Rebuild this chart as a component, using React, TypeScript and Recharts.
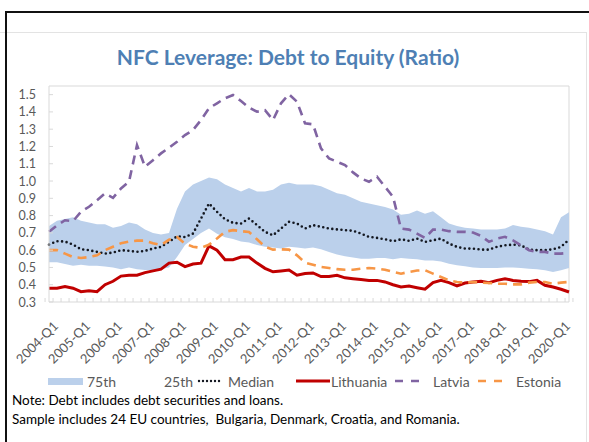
import * as React from "react";
import {
  ComposedChart,
  Area,
  Line,
  XAxis,
  YAxis,
  CartesianGrid,
} from "recharts";

// 2004-Q1 .. 2020-Q2
const years = [2004, 2005, 2006, 2007, 2008, 2009, 2010, 2011, 2012, 2013, 2014, 2015, 2016, 2017, 2018, 2019, 2020];
const quarterNames = ["Q1", "Q2", "Q3", "Q4"];
const quarters: string[] = years
  .flatMap((y) => quarterNames.map((q) => `${y}-${q}`))
  .slice(0, 66);

const yTicks = [0.3, 0.4, 0.5, 0.6, 0.7, 0.8, 0.9, 1.0, 1.1, 1.2, 1.3, 1.4, 1.5];

const p75 = [
  0.74, 0.77, 0.78, 0.79, 0.77, 0.76, 0.75, 0.75, 0.73, 0.74, 0.76, 0.75, 0.72, 0.7, 0.69, 0.7, 0.84,
  0.94, 0.98, 1.0, 1.02, 1.01, 0.98, 0.96, 0.94, 0.96, 0.94, 0.94, 0.95, 0.98, 0.99, 0.98, 0.98,
  0.98, 0.97, 0.95, 0.93, 0.92, 0.9, 0.88, 0.87, 0.86, 0.85, 0.835, 0.805, 0.81, 0.83, 0.81, 0.825, 0.79,
  0.755, 0.74, 0.73, 0.725, 0.72, 0.72, 0.72, 0.725, 0.745, 0.735, 0.73, 0.72, 0.71, 0.69, 0.79, 0.82,
];
const p25 = [
  0.53, 0.53, 0.52, 0.51, 0.515, 0.51, 0.51, 0.505, 0.5, 0.49, 0.5, 0.49, 0.485, 0.485, 0.49, 0.5, 0.56,
  0.63, 0.665, 0.7, 0.725, 0.695, 0.675, 0.665, 0.65, 0.645, 0.63, 0.62, 0.615, 0.61, 0.62, 0.615, 0.61,
  0.615, 0.605, 0.59, 0.575, 0.565, 0.557, 0.55, 0.55, 0.555, 0.555, 0.547, 0.555, 0.55, 0.548, 0.54, 0.54, 0.535,
  0.522, 0.512, 0.507, 0.5, 0.497, 0.497, 0.497, 0.5, 0.5, 0.497, 0.493, 0.49, 0.484, 0.474, 0.484, 0.497,
];
const median = [
  0.632, 0.652, 0.65, 0.632, 0.605, 0.6, 0.59, 0.58, 0.586, 0.6, 0.596, 0.59, 0.596, 0.609, 0.619, 0.648, 0.68,
  0.676, 0.696, 0.783, 0.87, 0.822, 0.779, 0.758, 0.754, 0.783, 0.745, 0.706, 0.686, 0.725, 0.764, 0.754, 0.725,
  0.745, 0.735, 0.725, 0.72, 0.716, 0.712, 0.696, 0.677, 0.671, 0.663, 0.652, 0.663, 0.654, 0.667, 0.648, 0.657, 0.667,
  0.638, 0.619, 0.609, 0.609, 0.603, 0.603, 0.619, 0.628, 0.632, 0.628, 0.603, 0.6, 0.6, 0.605, 0.619, 0.661,
];
const lithuania = [
  0.38, 0.38, 0.39, 0.38, 0.36, 0.365, 0.36, 0.4, 0.42, 0.45, 0.455, 0.455, 0.47, 0.48, 0.49, 0.525, 0.53,
  0.505, 0.52, 0.525, 0.625, 0.6, 0.545, 0.545, 0.56, 0.56, 0.525, 0.495, 0.475, 0.48, 0.485, 0.455, 0.465,
  0.468, 0.447, 0.447, 0.455, 0.44, 0.435, 0.43, 0.425, 0.425, 0.416, 0.4, 0.387, 0.392, 0.383, 0.374, 0.412, 0.425,
  0.412, 0.393, 0.41, 0.416, 0.42, 0.412, 0.425, 0.435, 0.425, 0.42, 0.418, 0.425, 0.397, 0.387, 0.374, 0.358,
];
const latvia = [
  0.706, 0.744, 0.773, 0.768, 0.822, 0.851, 0.889, 0.928, 0.903, 0.957, 0.996, 1.208, 1.083, 1.121, 1.16, 1.193, 1.227,
  1.266, 1.295, 1.353, 1.421, 1.45, 1.479, 1.498, 1.463, 1.425, 1.401, 1.41, 1.353, 1.45, 1.502, 1.459, 1.334,
  1.328, 1.189, 1.131, 1.112, 1.092, 1.05, 1.015, 0.996, 1.025, 0.967, 0.909, 0.725, 0.719, 0.696, 0.671, 0.719, 0.719,
  0.71, 0.706, 0.706, 0.702, 0.683, 0.648, 0.667, 0.677, 0.657, 0.628, 0.6, 0.59, 0.59, 0.58, 0.58, 0.584,
];
const estonia = [
  0.6, 0.6, 0.58, 0.56, 0.555, 0.56, 0.57, 0.6, 0.62, 0.64, 0.65, 0.655, 0.655, 0.64, 0.63, 0.66, 0.676,
  0.638, 0.62, 0.613, 0.632, 0.667, 0.706, 0.716, 0.71, 0.705, 0.663, 0.62, 0.603, 0.605, 0.603, 0.57, 0.528,
  0.516, 0.503, 0.497, 0.49, 0.487, 0.487, 0.493, 0.497, 0.493, 0.487, 0.474, 0.464, 0.474, 0.482, 0.484, 0.464, 0.445,
  0.425, 0.416, 0.412, 0.416, 0.412, 0.41, 0.406, 0.406, 0.402, 0.402, 0.412, 0.416, 0.416, 0.406, 0.412, 0.416,
];

const data = quarters.map((q, i) => ({
  q,
  band: [p25[i], p75[i]],
  median: median[i],
  lithuania: lithuania[i],
  latvia: latvia[i],
  estonia: estonia[i],
}));

const W = 589;
const H = 372;
const M = { top: 86, right: 20, bottom: 0, left: 9 };
const Y_W = 40;
const PLOT_W = W - M.left - M.right - Y_W;
const BAND_W = PLOT_W / quarters.length;
const AXIS = "#D9D9D9";
const TXT = "#595959";
const BLUE = "#BBD0EB";
const FONT = "Lato, 'Open Sans', sans-serif";

const XTick = (props: any) => {
  const { x, y, payload } = props;
  const i = payload.index;
  const label = quarters[i] ?? "";
  const left = x - BAND_W / 2;
  const ax = x + 10;
  const ay = y + 25;
  return (
    <g>
      <line x1={left} x2={left} y1={y} y2={y - 4} stroke={AXIS} />
      {i === quarters.length - 1 && (
        <line x1={x + BAND_W / 2} x2={x + BAND_W / 2} y1={y} y2={y - 4} stroke={AXIS} />
      )}
      {label.endsWith("Q1") && (
        <text
          x={ax}
          y={ay}
          transform={`rotate(-45 ${ax} ${ay})`}
          textAnchor="end"
          fontSize={13}
          fontFamily={FONT}
          fill={TXT}
        >
          {label}
        </text>
      )}
    </g>
  );
};

const YTick = (props: any) => {
  const { x, y, payload } = props;
  return (
    <g>
      <line x1={x} x2={x + 4} y1={y} y2={y} stroke={AXIS} />
      <text x={x - 13} y={y} dy="0.36em" textAnchor="end" fontSize={12.5} fontFamily={FONT} fill={TXT}>
        {Number(payload.value).toFixed(1)}
      </text>
    </g>
  );
};

const lineMark = (color: string, dash: string | undefined, width: number, len: number, round = false) => (
  <svg width={len} height={8} style={{ display: "block" }}>
    <line
      x1={round ? 2 : 0}
      x2={len}
      y1={4}
      y2={4}
      stroke={color}
      strokeWidth={width}
      strokeDasharray={dash}
      strokeLinecap={round ? "round" : "butt"}
    />
  </svg>
);

function At({ left, children }: { left: number; children: React.ReactNode }) {
  return (
    <div style={{ position: "absolute", left, top: 0, height: 18, display: "flex", alignItems: "center" }}>
      {children}
    </div>
  );
}

export default function App() {
  return (
    <div
      style={{
        position: "absolute",
        left: 0,
        top: 0,
        width: W,
        height: 442,
        background: "#fff",
        overflow: "hidden",
        fontFamily: FONT,
      }}
    >
      <div style={{ position: "absolute", left: 0, top: 32, width: 586, height: 420, borderTop: "1px solid #e3e3e3", borderRight: "1px solid #e3e3e3" }} />
      <div style={{ position: "absolute", left: 5, top: 11, width: 700, height: 500, borderTop: "2px solid #111", borderLeft: "2px solid #111" }} />
      <div
        style={{
          position: "absolute",
          left: 0,
          top: 44,
          width: 576,
          textAlign: "center",
          fontSize: 21,
          fontWeight: 700,
          color: "#4E7FB4",
        }}
      >
        NFC Leverage: Debt to Equity (Ratio)
      </div>

      <div style={{ position: "absolute", left: 0, top: 0 }}>
        <ComposedChart width={W} height={H} data={data} margin={M}>
          <CartesianGrid
            stroke={AXIS}
            horizontalCoordinatesGenerator={({ offset }: any) => [offset.top]}
            verticalCoordinatesGenerator={({ offset }: any) => [offset.left + offset.width]}
          />
          <XAxis
            dataKey="q"
            interval={0}
            tick={<XTick />}
            tickLine={false}
            tickSize={0}
            tickMargin={0}
            axisLine={{ stroke: AXIS }}
            height={70}
          />
          <YAxis
            type="number"
            domain={[0.3, 1.55]}
            ticks={yTicks}
            interval={0}
            allowDataOverflow
            width={Y_W}
            tick={<YTick />}
            tickLine={false}
            tickSize={0}
            tickMargin={0}
            axisLine={{ stroke: AXIS }}
          />
          <Area
            type="linear"
            dataKey="band"
            stroke="none"
            fill={BLUE}
            fillOpacity={1}
            isAnimationActive={false}
          />
          <Line
            type="linear"
            dataKey="median"
            stroke="#141821"
            strokeWidth={2.6}
            strokeDasharray="0 4.6"
            strokeLinecap="round"
            dot={false}
            isAnimationActive={false}
          />
          <Line
            type="linear"
            dataKey="lithuania"
            stroke="#C00000"
            strokeWidth={3}
            dot={false}
            isAnimationActive={false}
          />
          <Line
            type="linear"
            dataKey="latvia"
            stroke="#8064A2"
            strokeWidth={2.6}
            strokeDasharray="9 6"
            dot={false}
            isAnimationActive={false}
          />
          <Line
            type="linear"
            dataKey="estonia"
            stroke="#F79646"
            strokeWidth={2.6}
            strokeDasharray="9 6"
            dot={false}
            isAnimationActive={false}
          />
        </ComposedChart>
      </div>

      <div style={{ position: "absolute", left: 0, top: 372, width: W, height: 18, fontSize: 14, color: TXT, whiteSpace: "nowrap" }}>
        <At left={48}>
          <span style={{ display: "block", width: 35, height: 7, background: BLUE }} />
        </At>
        <At left={87}>75th</At>
        <At left={164}>25th</At>
        <At left={197}>{lineMark("#141821", "0 4", 2.4, 26, true)}</At>
        <At left={228}>Median</At>
        <At left={296}>{lineMark("#C00000", undefined, 3, 34)}</At>
        <At left={331}>Lithuania</At>
        <At left={395}>{lineMark("#8064A2", "8 8", 2.6, 26)}</At>
        <At left={433}>Latvia</At>
        <At left={478}>{lineMark("#F79646", "8 8", 2.6, 28)}</At>
        <At left={516}>Estonia</At>
      </div>

      <div style={{ position: "absolute", left: 12, top: 391, fontSize: 13.5, color: "#000", lineHeight: "19px", whiteSpace: "pre" }}>
        <div>Note: Debt includes debt securities and loans.</div>
        <div>Sample includes 24 EU countries,  Bulgaria, Denmark, Croatia, and Romania.</div>
      </div>
    </div>
  );
}
